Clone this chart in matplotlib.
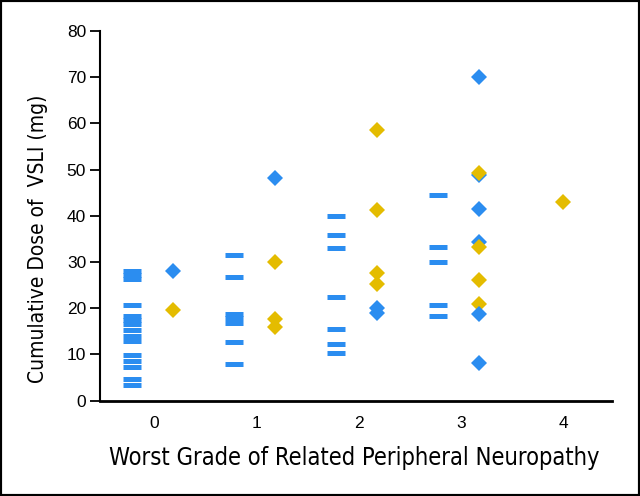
import matplotlib
matplotlib.use("Agg")
import matplotlib.pyplot as plt
from matplotlib.patches import Rectangle

# grades on the x axis
grades = [0, 1, 2, 3, 4]

# dash markers (blue), one list per grade
dash_grade0 = [28.0, 27.2, 26.4, 20.8, 18.4, 17.5, 16.5, 15.2, 14.1, 13.0, 9.8, 8.5, 7.2, 4.6, 3.5]
dash_grade1 = [31.5, 26.8, 18.8, 17.8, 16.9, 12.6, 7.9]
dash_grade2 = [40.0, 35.9, 33.0, 22.5, 15.5, 12.3, 10.3]
dash_grade3 = [44.5, 33.3, 30.1, 20.7, 18.3]
dash_values = [dash_grade0, dash_grade1, dash_grade2, dash_grade3]

# diamond markers, listed in drawing order
diamond_grade = [0, 0, 1, 1, 1, 1, 2, 2, 2, 2, 2, 2,
                 3, 3, 3, 3, 3, 3, 3, 3, 3, 3, 4]
diamond_value = [28.1, 19.6, 48.2, 30.1, 17.7, 15.9, 58.6, 41.3, 27.6, 25.3, 20.0, 18.9,
                 70.1, 48.8, 49.2, 41.4, 34.4, 33.3, 26.1, 20.9, 18.8, 8.2, 43.1]
diamond_group = ["b", "y", "b", "y", "y", "y", "y", "y", "y", "y", "b", "b",
                 "b", "b", "y", "b", "b", "y", "y", "y", "b", "b", "y"]

blue = "#2B8DF0"
yellow = "#E4BC00"
colors = {"b": blue, "y": yellow}

plt.rcParams["font.family"] = ["Liberation Sans", "DejaVu Sans"]

fig = plt.figure(figsize=(6.4, 4.96), dpi=100)
ax = fig.add_axes([100 / 640, 1 - 400.7 / 496, 512 / 640, 369.7 / 496])

# dashes sit left of each grade, diamonds to the right
for g, vals in zip(grades, dash_values):
    ax.plot([g - 0.22] * len(vals), vals, linestyle="none", marker="_",
            markersize=12.5, markeredgewidth=3.6, color=blue, zorder=3)

for g, v, c in zip(diamond_grade, diamond_value, diamond_group):
    off = 0.0 if g == 4 else 0.18
    ax.plot(g + off, v, linestyle="none", marker="D", markersize=8.6,
            markeredgewidth=0, color=colors[c], zorder=4)

ax.set_xlim(-0.53, 4.48)
ax.set_ylim(0, 80)
ax.set_xticks(grades)
ax.set_yticks(range(0, 81, 10))
ax.tick_params(axis="x", length=0, pad=11, labelsize=12.5)
ax.tick_params(axis="y", direction="out", length=7, width=1.3, pad=3, labelsize=12.5)
ax.spines["top"].set_visible(False)
ax.spines["right"].set_visible(False)
ax.spines["left"].set_linewidth(1.5)
ax.spines["bottom"].set_linewidth(2)

# condensed face for the axis titles
lab_font = ["DejaVu Sans"]
fig.text(354 / 640, 1 - 458 / 496, "Worst Grade of Related Peripheral Neuropathy",
         ha="center", va="center", fontsize=17, family=lab_font, fontstretch="condensed")
fig.text(38 / 640, 1 - 239 / 496, "Cumulative Dose of  VSLI (mg)", rotation=90,
         ha="center", va="center", fontsize=15, family=lab_font, fontstretch="condensed")

# black frame round the picture
fig.patches.append(Rectangle((0, 0), 1, 1, transform=fig.transFigure, fill=False,
                             edgecolor="black", linewidth=3))

fig.savefig("out.png", dpi=100)
